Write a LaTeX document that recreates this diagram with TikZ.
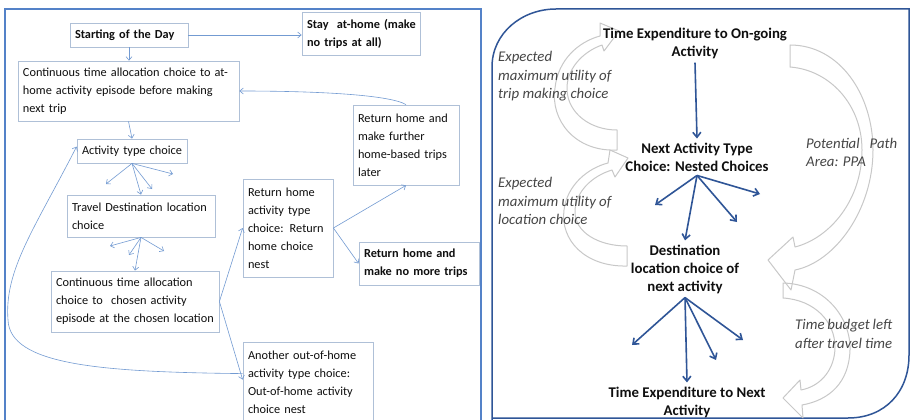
\documentclass[tikz,border=0pt]{standalone}
\usepackage{fontspec}
\setmainfont{Carlito}
\usetikzlibrary{arrows.meta,calc}
\definecolor{lframe}{RGB}{84,130,200}
\definecolor{rframe}{RGB}{47,85,151}
\definecolor{boxline}{RGB}{175,192,215}
\definecolor{conn}{RGB}{115,155,210}
\definecolor{barrowc}{RGB}{47,85,151}
\definecolor{greyarr}{RGB}{200,200,200}
\definecolor{labelc}{RGB}{70,70,70}
\definecolor{txt}{RGB}{15,15,15}
\tikzset{
 lbox/.style={draw=boxline, line width=0.8pt, inner xsep=5pt, inner ysep=0pt, align=left,
   font=\fontsize{12.3}{18}\selectfont, text=txt},
 lconn/.style={draw=conn, line width=0.6pt, -{Straight Barb[length=3.5pt,width=6pt]}},
 bconn/.style={draw=barrowc, line width=1.6pt, -{Straight Barb[length=5pt,width=8pt]}},
 rtext/.style={font=\fontsize{14.8}{18}\selectfont\bfseries, align=center, inner sep=4pt, text=txt},
 ilabel/.style={font=\fontsize{14.8}{18.5}\selectfont\itshape, align=left, inner sep=0pt, text=labelc, anchor=west},
 garrow/.style={draw=greyarr, line width=1pt, line join=round},
}
\begin{document}
\begin{tikzpicture}[x=1pt,y=-1pt]
\useasboundingbox (0,0) rectangle (910,420);
\fill[white] (0,0) rectangle (910,420);

% ---------- left panel ----------
\draw[lframe, line width=1.8pt] (5,422) -- (5,9) -- (481,9) -- (481,422);

\node[lbox, font=\fontsize{12.3}{18}\selectfont\bfseries, minimum width=118pt, minimum height=24pt, text width=108pt] (start) at (129,35) {\mbox{Starting of the Day}};
\node[lbox, font=\fontsize{12.3}{18}\selectfont\bfseries, minimum width=118pt, minimum height=43pt, text width=108pt] (stay) at (361,33.5) {\mbox{Stay\ \ at-home (make}\\\mbox{no trips at all)}};
\node[lbox, minimum width=221pt, minimum height=60pt, text width=211pt] (conthome) at (128.5,91) {\mbox{Continuous time allocation choice to at-}\\\mbox{home activity episode before making}\\\mbox{next trip}};
\node[lbox, minimum width=110pt, minimum height=24pt, text width=100pt] (acttype) at (132,151) {\mbox{Activity type choice}};
\node[lbox, minimum width=148pt, minimum height=42pt, text width=138pt] (travel) at (141,216) {\mbox{Travel Destination location}\\\mbox{choice}};
\node[lbox, minimum width=168pt, minimum height=61pt, text width=158pt] (contchosen) at (135,301.5) {\mbox{Continuous time allocation}\\\mbox{choice to\ \ chosen activity}\\\mbox{episode at the chosen location}};
\node[lbox, minimum width=90pt, minimum height=98pt, text width=80pt] (rettype) at (288,228) {\mbox{Return home}\\\mbox{activity type}\\\mbox{choice: Return}\\\mbox{home choice}\\\mbox{nest}};
\node[lbox, minimum width=106pt, minimum height=80pt, text width=96pt] (further) at (406,145) {\mbox{Return home and}\\\mbox{make further}\\\mbox{home-based trips}\\\mbox{later}};
\node[lbox, font=\fontsize{12.3}{18}\selectfont\bfseries, minimum width=120pt, minimum height=43pt, text width=110pt] (nomore) at (419,263.5) {\mbox{Return home and}\\\mbox{make no more trips}};
\node[lbox, minimum width=130pt, minimum height=80pt, text width=120pt] (another) at (308,382) {\mbox{Another out-of-home}\\\mbox{activity type choice:}\\\mbox{Out-of-home activity}\\\mbox{choice nest}};

\coordinate (a1) at (106,184);
\coordinate (a2) at (152,189);
\coordinate (a3) at (173,174);
\coordinate (t1) at (110,246);
\coordinate (t2) at (129,255);
\coordinate (t3) at (164,251);

\draw[lconn] (start.east) -- (stay.west |- start.east);
\draw[lconn] (start.south) -- (start.south |- conthome.north);
\draw[lconn] (conthome.south) -- (acttype.north);
\draw[lconn] (acttype.south) -- (travel.north);
\draw[lconn] (acttype.south) -- (a1);
\draw[lconn] (acttype.south) -- (a2);
\draw[lconn] (acttype.south) -- (a3);
\draw[lconn] (travel.south) -- (contchosen.north);
\draw[lconn] (travel.south) -- (t1);
\draw[lconn] (travel.south) -- (t2);
\draw[lconn] (travel.south) -- (t3);
\draw[lconn] (contchosen.east) -- (rettype.west);
\draw[lconn] (contchosen.east) -- ($(another.north west)+(0,38)$);
\draw[lconn] (rettype.east) -- (further.south);
\draw[lconn] (rettype.east) -- (nomore.west);
\draw[lconn] (further.north) .. controls (390,95) and (320,91) .. (conthome.east);
\draw[lconn] ($(another.north west)+(0,32)$) .. controls (100,372) and (10,365) .. (8,320)
   .. controls (4,270) and (35,228) .. ($(acttype.north west)+(0,8)$);

% ---------- right panel ----------
\draw[rframe, line width=1.5pt] (492,422) -- (492,67) .. controls (492,33) and (522,9) .. (556,9)
   -- (909,9) -- (909,355) .. controls (909,392) and (885,418) .. (848,418) -- (492,418);

% grey curved block arrows
\draw[garrow] (617,150) .. controls (575,152) and (550,120) .. (555,88)
   .. controls (558,60) and (578,42) .. (600,36) -- (600,23) -- (619,31) -- (604,51) -- (602,45)
   .. controls (582,52) and (566,70) .. (567,90) .. controls (568,113) and (590,130) .. (617,130) -- cycle;
\draw[garrow] (627,266) .. controls (585,267) and (560,240) .. (564,210)
   .. controls (567,185) and (588,168) .. (608,163) -- (610,150) -- (628,158) -- (615,177) -- (612,170)
   .. controls (592,176) and (575,192) .. (575,212) .. controls (575,232) and (598,246) .. (627,246) -- cycle;
\draw[garrow] (790,45) .. controls (840,45) and (873,95) .. (873,150)
   .. controls (873,210) and (835,262) .. (795,270) -- (791,290) -- (768,260) -- (793,237) -- (795,247)
   .. controls (830,238) and (862,200) .. (862,150) .. controls (862,105) and (830,70) .. (790,67) -- cycle;
\draw[garrow] (783,283) .. controls (825,284) and (851,318) .. (850,350)
   .. controls (849,382) and (830,400) .. (802,405) -- (803,418) -- (783,398) -- (800,380) -- (801,390)
   .. controls (822,386) and (835,368) .. (835,347) .. controls (835,322) and (815,300) .. (783,298) -- cycle;

\node[rtext] (top) at (695,43) {Time Expenditure to On-going\\Activity};
\node[rtext] (next) at (697,157) {Next Activity Type\\Choice: Nested Choices};
\node[rtext] (dest) at (685,269) {Destination\\location choice of\\next activity};
\node[rtext] (tnext) at (687,402) {Time Expenditure to Next\\Activity};

\node[ilabel] (lab1) at (498,76.5) {Expected\\maximum utility of\\trip making choice};
\node[ilabel] (lab2) at (498,201) {Expected\\maximum utility of\\location choice};
\node[ilabel] (lab3) at (806,152.5) {\makebox[91pt][l]{Potential\hfill Path}\\Area: PPA};
\node[ilabel] (lab4) at (795,334) {\makebox[97pt][l]{Time\hfill budget\hfill left}\\after travel time};

\coordinate (n1) at (655,205);
\coordinate (n2) at (737,222);
\coordinate (n3) at (760,194);
\coordinate (d1) at (632,345);
\coordinate (d2) at (716,360);
\coordinate (d3) at (743,340);

\draw[bconn] (top.south) -- (next.north);
\draw[bconn] (next.south) -- (dest.north);
\draw[bconn] (next.south) -- (n1);
\draw[bconn] (next.south) -- (n2);
\draw[bconn] (next.south) -- (n3);
\draw[bconn] (dest.south) -- (tnext.north);
\draw[bconn] (dest.south) -- (d1);
\draw[bconn] (dest.south) -- (d2);
\draw[bconn] (dest.south) -- (d3);
\end{tikzpicture}
\end{document}
